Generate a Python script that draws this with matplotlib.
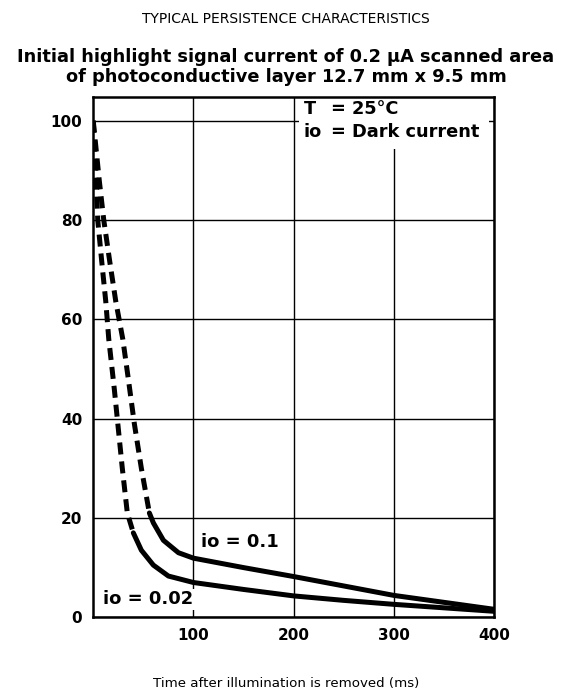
import matplotlib
matplotlib.use("Agg")
import matplotlib.pyplot as plt
from matplotlib.patches import Rectangle

# curve for io = 0.1 (upper)
x_hi = [0, 3, 6, 10.5, 16.5, 22.5, 29.5, 35, 41, 48, 56, 60, 70, 85, 100, 150, 200, 250, 300, 350, 400]
y_hi = [100, 94, 88, 80, 71.6, 63.6, 56, 48, 39, 30, 21, 19, 15.5, 13, 11.9, 10, 8.2, 6.3, 4.4, 3, 1.6]
dash_end_hi = 56

# curve for io = 0.02 (lower)
x_lo = [0, 2, 4.5, 8.5, 12.5, 15.5, 21, 25, 29, 34, 40, 48, 60, 75, 100, 150, 200, 250, 300, 350, 400]
y_lo = [100, 92, 80, 71.6, 63.6, 56, 46, 38, 30, 21, 17, 13.5, 10.5, 8.3, 7.0, 5.6, 4.3, 3.4, 2.6, 1.9, 1.2]
dash_end_lo = 40

xticks = [100, 200, 300, 400]
yticks = [0, 20, 40, 60, 80, 100]

legend_keys = ["T", "io"]
legend_vals = ["= 25°C", "= Dark current"]


def split(xs, ys, xcut):
    # dashed part up to xcut, solid part from xcut on
    i = xs.index(xcut)
    return (xs[:i + 1], ys[:i + 1]), (xs[i:], ys[i:])


fig = plt.figure(figsize=(5.72, 6.92), dpi=100)
ax = fig.add_axes([0.163, 0.108, 0.701, 0.752])

ax.set_xlim(0, 400)
ax.set_ylim(0, 104.8)
ax.set_xticks(xticks)
ax.set_yticks(yticks)
ax.tick_params(length=0, labelsize=11, pad=8)
for lab in ax.get_xticklabels() + ax.get_yticklabels():
    lab.set_fontweight("bold")
for s in ax.spines.values():
    s.set_linewidth(1.8)
ax.grid(True, color="black", linewidth=1.0)
ax.set_axisbelow(True)

for xs, ys, cut in [(x_hi, y_hi, dash_end_hi), (x_lo, y_lo, dash_end_lo)]:
    dashed, solid = split(xs, ys, cut)
    ax.plot(*dashed, color="black", lw=3.6, linestyle=(0, (2.4, 1.4)), solid_capstyle="butt")
    ax.plot(*solid, color="black", lw=3.6, solid_capstyle="round")

box = dict(facecolor="white", edgecolor="none", pad=1.0)
ax.text(108, 15.2, "io = 0.1", fontsize=13, fontweight="bold", va="center", ha="left", bbox=box)
ax.text(10, 3.6, "io = 0.02", fontsize=13, fontweight="bold", va="center", ha="left", bbox=box)

# white patch behind the condition notes, hiding the grid there
ax.add_patch(Rectangle((205, 94.3), 190, 10.5, facecolor="white", edgecolor="none", zorder=1.5))
for i, (k, v) in enumerate(zip(legend_keys, legend_vals)):
    yy = 102.4 - i * 4.7
    ax.text(210, yy, k, fontsize=12.8, fontweight="bold", va="center", ha="left", zorder=3)
    ax.text(237, yy, v, fontsize=12.8, fontweight="bold", va="center", ha="left", zorder=3)

fig.text(0.5, 0.972, "TYPICAL PERSISTENCE CHARACTERISTICS", ha="center", va="center", fontsize=10)
fig.text(0.5, 0.903, "Initial highlight signal current of 0.2 μA scanned area\n"
         "of photoconductive layer 12.7 mm x 9.5 mm", ha="center", va="center",
         fontsize=12.8, fontweight="bold", linespacing=1.1)
fig.text(0.5, 0.013, "Time after illumination is removed (ms)", ha="center", va="center", fontsize=9.6)

fig.savefig("out.png")
